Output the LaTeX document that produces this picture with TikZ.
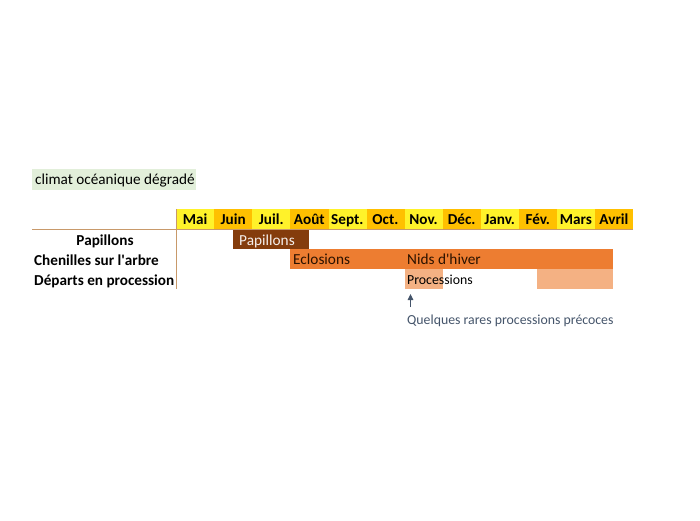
\documentclass[tikz,border=0pt]{standalone}
\usepackage{fontspec}
\setmainfont{Carlito}
\usetikzlibrary{arrows.meta}
\definecolor{hdryel}{HTML}{FFF22A}
\definecolor{hdrorg}{HTML}{FFC000}
\definecolor{papbrown}{HTML}{843C0C}
\definecolor{chenorg}{HTML}{ED7D31}
\definecolor{procsal}{HTML}{F4B183}
\definecolor{climgreen}{HTML}{E2EFDA}
\definecolor{gridtan}{HTML}{C8996A}
\definecolor{notecol}{HTML}{44546A}
\definecolor{bartext}{HTML}{2B1200}
\tikzset{
  hdrcell/.style={inner sep=0pt, minimum height=20pt, minimum width=38.08pt, anchor=north west},
  hdrtxt/.style={inner sep=0pt, anchor=base, font=\fontsize{15.2}{17}\selectfont\bfseries, text=black},
  rowlabel/.style={inner sep=0pt, font=\fontsize{15.2}{17}\selectfont\bfseries, text=black},
  barbox/.style={inner sep=0pt, anchor=north west, minimum height=19.7pt},
  bartxt/.style={inner sep=0pt, anchor=base west, font=\fontsize{15.3}{17}\selectfont},
  gridline/.style={draw=gridtan, line width=0.9pt},
}
\begin{document}
\begin{tikzpicture}[x=1pt,y=-1pt]
\useasboundingbox (0,0) rectangle (700,520);
% climate label
\node[fill=climgreen, inner sep=0pt, minimum width=164pt, minimum height=21pt, anchor=north west] (climbg) at (32,169) {};
\node[inner sep=0pt, anchor=base west, font=\fontsize{15.2}{17}\selectfont, text=black] (clim) at (35,184.5) {climat océanique dégradé};
% header cells
\foreach \m/\c [count=\i from 0] in {Mai/hdryel,Juin/hdrorg,Juil./hdryel,Août/hdrorg,Sept./hdryel,Oct./hdrorg,Nov./hdryel,Déc./hdrorg,Janv./hdryel,Fév./hdrorg,Mars/hdryel,Avril/hdrorg}{
  \node[hdrcell, fill=\c] (h\i) at ({176+38.08*\i},209) {};
  \node[hdrtxt] (ht\i) at ({176+38.08*\i+19.04},224.5) {\m};
}
% bars
\node[barbox, fill=papbrown, minimum width=76pt] (papbar) at (233,229.5) {};
\node[barbox, fill=chenorg, minimum width=323pt] (chenbar) at (290,249.2) {};
\node[barbox, fill=procsal, minimum width=38pt, minimum height=20.3pt] (proc1) at (405,268.9) {};
\node[barbox, fill=procsal, minimum width=76pt, minimum height=20.3pt] (proc2) at (537,268.9) {};
% bar texts
\node[bartxt, text=white!92!papbrown] (paptxt) at (239,245) {Papillons};
\node[bartxt, text=bartext] (ecltxt) at (293,264.4) {Eclosions};
\node[bartxt, text=bartext] (nidtxt) at (407,264.4) {Nids d\textquotesingle hiver};
\node[bartxt, text=black, font=\fontsize{13.8}{16}\selectfont] (proctxt) at (407,284.3) {Processions};
% grid lines
\coordinate (hl1) at (32,229.5);
\coordinate (hl2) at (633,229.5);
\coordinate (vl1) at (176.5,209);
\coordinate (vl2) at (176.5,289);
\draw[gridline] (hl1) -- (hl2);
\draw[gridline] (vl1) -- (vl2);
% row labels
\node[rowlabel, anchor=base] (lpap) at (105,245.5) {Papillons};
\node[rowlabel, anchor=base west] (lchen) at (34,265) {Chenilles sur l\textquotesingle arbre};
\node[rowlabel, anchor=base west] (ldep) at (34,285) {Départs en procession};
% note
\node[inner sep=0pt, anchor=base west, font=\fontsize{13.8}{16}\selectfont, text=notecol] (note) at (407,324.3) {Quelques rares processions précoces};
\coordinate (atail) at (410.5,307);
\coordinate (atip) at (410.5,294);
\draw[draw=notecol, line width=1pt, -{Triangle[length=6pt,width=5.5pt]}] (atail) -- (atip);
\end{tikzpicture}
\end{document}
